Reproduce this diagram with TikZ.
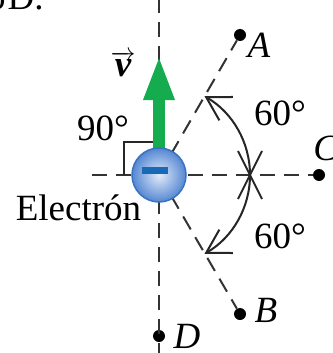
\documentclass[tikz,border=0pt]{standalone}
\usepackage{fontspec}
\setmainfont{Liberation Serif}
\usetikzlibrary{arrows.meta}
\definecolor{vgreen}{RGB}{20,172,78}
\definecolor{eedge}{RGB}{55,115,195}
\definecolor{ein}{RGB}{225,235,250}
\definecolor{eout}{RGB}{85,135,210}
\definecolor{minusblue}{RGB}{25,105,180}
\begin{document}
\begin{tikzpicture}[x=1pt,y=-1pt,
  dline/.style={draw=black!80, line width=2pt, dash pattern=on 15pt off 9pt},
  dot/.style={circle, fill=black, inner sep=0pt, minimum size=12pt},
  lbl/.style={font=\fontsize{37}{40}\selectfont, inner sep=0pt, anchor=base},
  arcline/.style={draw=black!85, line width=2pt},
  barb/.style={-{Straight Barb[length=23pt,width=27pt]}}
  ]
\useasboundingbox (0,0) rectangle (332,353);
\coordinate (O) at (159,175);
\coordinate (top) at (159,-2);
\coordinate (bot) at (159,355);
\coordinate (left) at (92,175);
\coordinate (X) at (250,175);
\node[dot] (A) at (240,35) {};
\node[dot] (B) at (240,314) {};
\node[dot] (C) at (319,175) {};
\node[dot] (D) at (159,336) {};
% dashed guide lines
\draw[dline] (top) -- (O);
\draw[dline] (O) -- (bot);
\draw[dline] (left) -- (C);
\draw[dline] (O) -- (A);
\draw[dline] (O) -- (B);
% angle arcs
\draw[arcline, barb] (X) arc[start angle=0, end angle=-60, radius=91];
\draw[arcline, barb] (X) arc[start angle=0, end angle=60, radius=91];
\coordinate (x1) at (238,151);
\coordinate (x2) at (262,199);
\coordinate (x3) at (262,151);
\coordinate (x4) at (238,199);
\draw[arcline, line width=1.8pt] (x1) -- (x2);
\draw[arcline, line width=1.8pt] (x3) -- (x4);
% right angle mark
\coordinate (r1) at (124,175);
\coordinate (r2) at (124,142);
\coordinate (r3) at (159,142);
\draw[line width=1.5pt, black!85] (r1) -- (r2) -- (r3);
% velocity arrow
\coordinate (vs) at (159,158);
\coordinate (vt) at (159,55);
\draw[vgreen, line width=12pt, -{Triangle[length=45pt,width=28pt]}] (vs) -- (vt);
% electron
\node[circle, minimum size=54pt, inner sep=0pt, draw=eedge, line width=1.5pt,
      inner color=ein, outer color=eout] (e) at (O) {};
\node[fill=minusblue, minimum width=26pt, minimum height=7pt, inner sep=0pt] (m) at (155,170.5) {};
% labels
\node[lbl] (lA) at (259,57) {\textit{A}};
\node[lbl] (lB) at (266,322) {\textit{B}};
\node[lbl] (lC) at (326,160) {\textit{C}};
\node[lbl] (lD) at (187,348) {\textit{D}};
\node[lbl] (l60a) at (280,125) {60°};
\node[lbl] (l60b) at (280,248) {60°};
\node[lbl] (l90) at (103,140) {90°};
\node[lbl] (le) at (78.5,220) {Electrón};
\node[lbl] (lv) at (123,77) {$\overrightarrow{\mbox{\bfseries\itshape\kern1pt v\kern1pt}}$};
\node[lbl, anchor=base west] (cap) at (-13,10) {ó\kern2pt D.};
\end{tikzpicture}
\end{document}
